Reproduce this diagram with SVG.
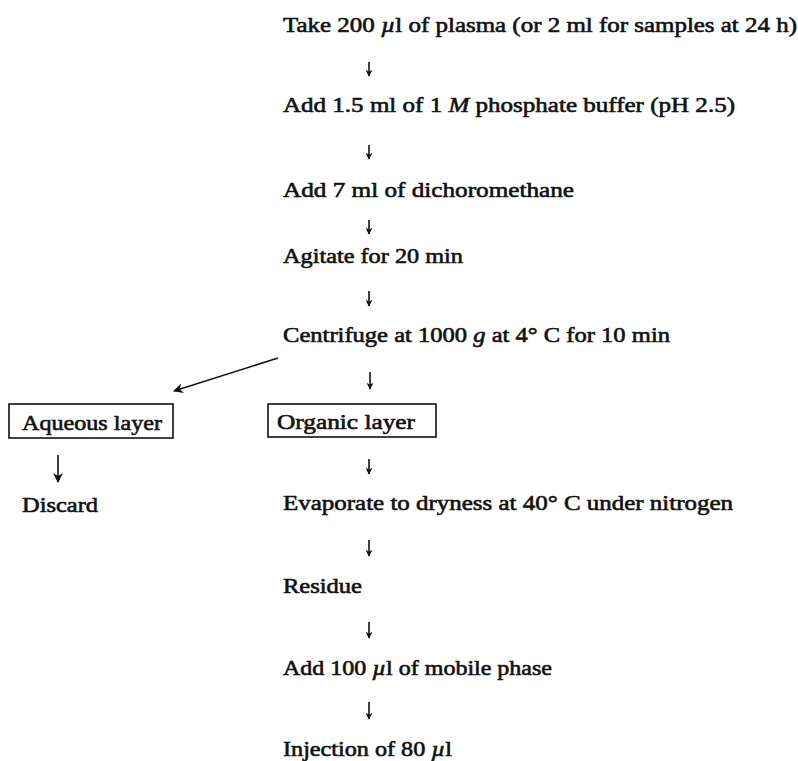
<svg xmlns="http://www.w3.org/2000/svg" width="798" height="761" viewBox="0 0 798 761">
<defs>
<style>
text{font-family:"Liberation Serif","Times New Roman",serif;font-size:21px;fill:#111;stroke:#111;stroke-width:0.6px}
.i{font-style:italic}
.box{fill:#fff;stroke:#111;stroke-width:1.6}
.c{stroke:#111;stroke-width:1.6;fill:none}
</style>
<marker id="ah" viewBox="0 0 10 10" refX="9" refY="5" markerWidth="7" markerHeight="7" markerUnits="userSpaceOnUse" orient="auto">
<path d="M0,0 L10,5 L0,10 L3,5 Z" fill="#111"/>
</marker>
<marker id="ah2" viewBox="0 0 10 10" refX="9" refY="5" markerWidth="10" markerHeight="10" markerUnits="userSpaceOnUse" orient="auto">
<path d="M0,0 L10,5 L0,10 L3,5 Z" fill="#111"/>
</marker>
</defs>
<rect width="798" height="761" fill="#fff"/>
<g id="connectors">
<line class="c" x1="369" y1="62" x2="369" y2="76" marker-end="url(#ah)"/>
<line class="c" x1="369" y1="145" x2="369" y2="159" marker-end="url(#ah)"/>
<line class="c" x1="369" y1="220" x2="369" y2="234" marker-end="url(#ah)"/>
<line class="c" x1="369" y1="291" x2="369" y2="306" marker-end="url(#ah)"/>
<line class="c" x1="370" y1="372" x2="370" y2="389" marker-end="url(#ah)"/>
<line class="c" x1="278" y1="358" x2="174" y2="391" marker-end="url(#ah2)"/>
<line class="c" x1="58" y1="455" x2="58" y2="482" marker-end="url(#ah2)"/>
<line class="c" x1="369" y1="459" x2="369" y2="474" marker-end="url(#ah)"/>
<line class="c" x1="369" y1="540" x2="369" y2="556" marker-end="url(#ah)"/>
<line class="c" x1="369" y1="622" x2="369" y2="638" marker-end="url(#ah)"/>
<line class="c" x1="369" y1="702" x2="369" y2="719" marker-end="url(#ah)"/>
</g>
<g id="step1"><text x="283" y="32" textLength="514" lengthAdjust="spacingAndGlyphs">Take 200 <tspan class="i">µ</tspan>l of plasma (or 2 ml for samples at 24 h)</text></g>
<g id="step2"><text x="283" y="112" textLength="452" lengthAdjust="spacingAndGlyphs">Add 1.5 ml of 1 <tspan class="i">M</tspan> phosphate buffer (pH 2.5)</text></g>
<g id="step3"><text x="283" y="197" textLength="291" lengthAdjust="spacingAndGlyphs">Add 7 ml of dichoromethane</text></g>
<g id="step4"><text x="283" y="263" textLength="180" lengthAdjust="spacingAndGlyphs">Agitate for 20 min</text></g>
<g id="step5"><text x="283" y="342" textLength="387" lengthAdjust="spacingAndGlyphs">Centrifuge at 1000 <tspan class="i">g</tspan> at 4° C for 10 min</text></g>
<g id="aqueous"><rect class="box" x="9" y="404" width="164" height="34"/><text x="22" y="430" textLength="140" lengthAdjust="spacingAndGlyphs">Aqueous layer</text></g>
<g id="organic"><rect class="box" x="268" y="404" width="168" height="33"/><text x="277" y="429" textLength="138" lengthAdjust="spacingAndGlyphs">Organic layer</text></g>
<g id="discard"><text x="22" y="512" textLength="76" lengthAdjust="spacingAndGlyphs">Discard</text></g>
<g id="step6"><text x="283" y="510" textLength="450" lengthAdjust="spacingAndGlyphs">Evaporate to dryness at 40° C under nitrogen</text></g>
<g id="step7"><text x="283" y="593" textLength="79" lengthAdjust="spacingAndGlyphs">Residue</text></g>
<g id="step8"><text x="283" y="675" textLength="269" lengthAdjust="spacingAndGlyphs">Add 100 <tspan class="i">µ</tspan>l of mobile phase</text></g>
<g id="step9"><text x="283" y="756" textLength="169" lengthAdjust="spacingAndGlyphs">Injection of 80 <tspan class="i">µ</tspan>l</text></g>
</svg>
